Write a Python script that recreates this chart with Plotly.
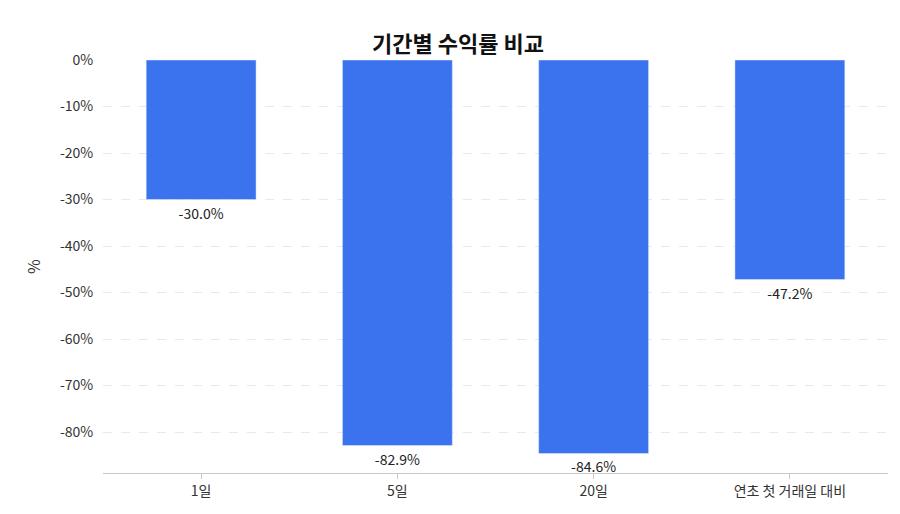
import plotly.graph_objects as go

categories = ["1일", "5일", "20일", "연초 첫 거래일 대비"]
values = [-30.0, -82.9, -84.6, -47.2]
labels = ["-30.0%", "-82.9%", "-84.6%", "-47.2%"]
tick_vals = [0, -10, -20, -30, -40, -50, -60, -70, -80]
tick_text = ["0%", "-10%", "-20%", "-30%", "-40%", "-50%", "-60%", "-70%", "-80%"]

font = "Noto Sans CJK KR"
fig = go.Figure(go.Bar(
    x=categories, y=values, text=labels, textposition="outside",
    marker_color="#3B73EE", width=0.56,
    textfont=dict(size=14, color="#222", family=font), cliponaxis=False,
))
fig.update_layout(
    width=900, height=514, plot_bgcolor="white", paper_bgcolor="white",
    margin=dict(l=95, r=20, t=52, b=49),
    font=dict(family=font, size=14, color="#333"),
    title=dict(text="<b>기간별 수익률 비교</b>", x=0.5, xanchor="center", y=0.945,
               font=dict(size=22, color="#111", family=font)),
    showlegend=False,
)
fig.update_yaxes(range=[-88.8, 0], tickvals=tick_vals, ticktext=tick_text,
                 title=dict(text="%", font=dict(size=16)), showgrid=True,
                 gridcolor="#e6e9ee", griddash="dash", zeroline=False,
                 ticks="outside", ticklen=6, tickcolor="white")
fig.update_xaxes(showline=True, linecolor="#c8c8c8", ticks="outside",
                 tickcolor="#c8c8c8", ticklen=5)
fig.write_html("out.html")
